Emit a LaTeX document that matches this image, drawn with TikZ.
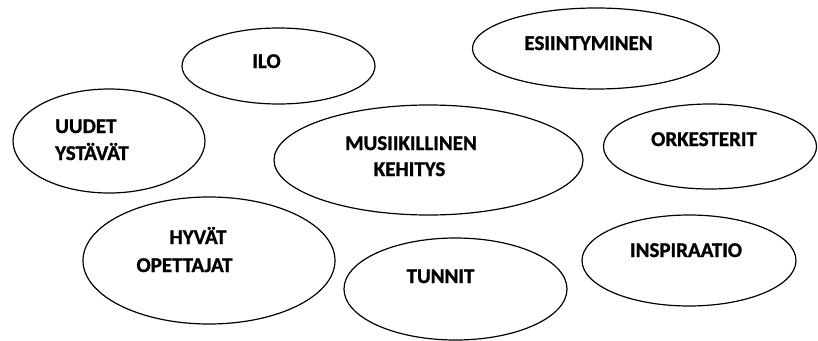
\documentclass[tikz,border=0pt]{standalone}
\usepackage{fontspec}
\setmainfont{Carlito}[BoldFont={Carlito Bold},BoldFeatures={FakeBold=1.2}]
\usetikzlibrary{shapes.geometric}
\begin{document}
\begin{tikzpicture}[x=1pt,y=-1pt,
  bubble/.style={draw=black,line width=1.2pt,ellipse,inner sep=0pt},
  word/.style={inner sep=0pt,anchor=base,font=\fontsize{21}{27}\selectfont\bfseries}]
\useasboundingbox (0,0) rectangle (818,340);
\node[bubble,minimum width=193pt,minimum height=76pt] (ilo) at (278.5,66) {};
\node[bubble,minimum width=247pt,minimum height=81pt] (esi) at (596,48.5) {};
\node[bubble,minimum width=192pt,minimum height=104pt] (uud) at (109,141) {};
\node[bubble,minimum width=309pt,minimum height=110pt] (mus) at (428.5,160) {};
\node[bubble,minimum width=213pt,minimum height=85pt] (ork) at (710,146.5) {};
\node[bubble,minimum width=252pt,minimum height=127pt] (hyv) at (209,260.5) {};
\node[bubble,minimum width=223pt,minimum height=102pt] (tun) at (455.5,289) {};
\node[bubble,minimum width=214pt,minimum height=91pt] (ins) at (689,260.5) {};
\node[word] (t1) at (266.5,68) {ILO};
\node[word] (t2) at (588.5,50) {ESIINTYMINEN};
\node[word,anchor=base west] (t3) at (55,133) {UUDET};
\node[word,anchor=base west] (t4) at (55,160) {YSTÄVÄT};
\node[word] (t5) at (411,150) {MUSIIKILLINEN};
\node[word] (t6) at (409.5,176) {KEHITYS};
\node[word] (t7) at (704,146) {ORKESTERIT};
\node[word] (t8) at (198,244) {HYVÄT};
\node[word] (t9) at (184.5,272) {OPETTAJAT};
\node[word] (t10) at (440.5,283) {TUNNIT};
\node[word] (t11) at (686,257) {INSPIRAATIO};
\end{tikzpicture}
\end{document}
